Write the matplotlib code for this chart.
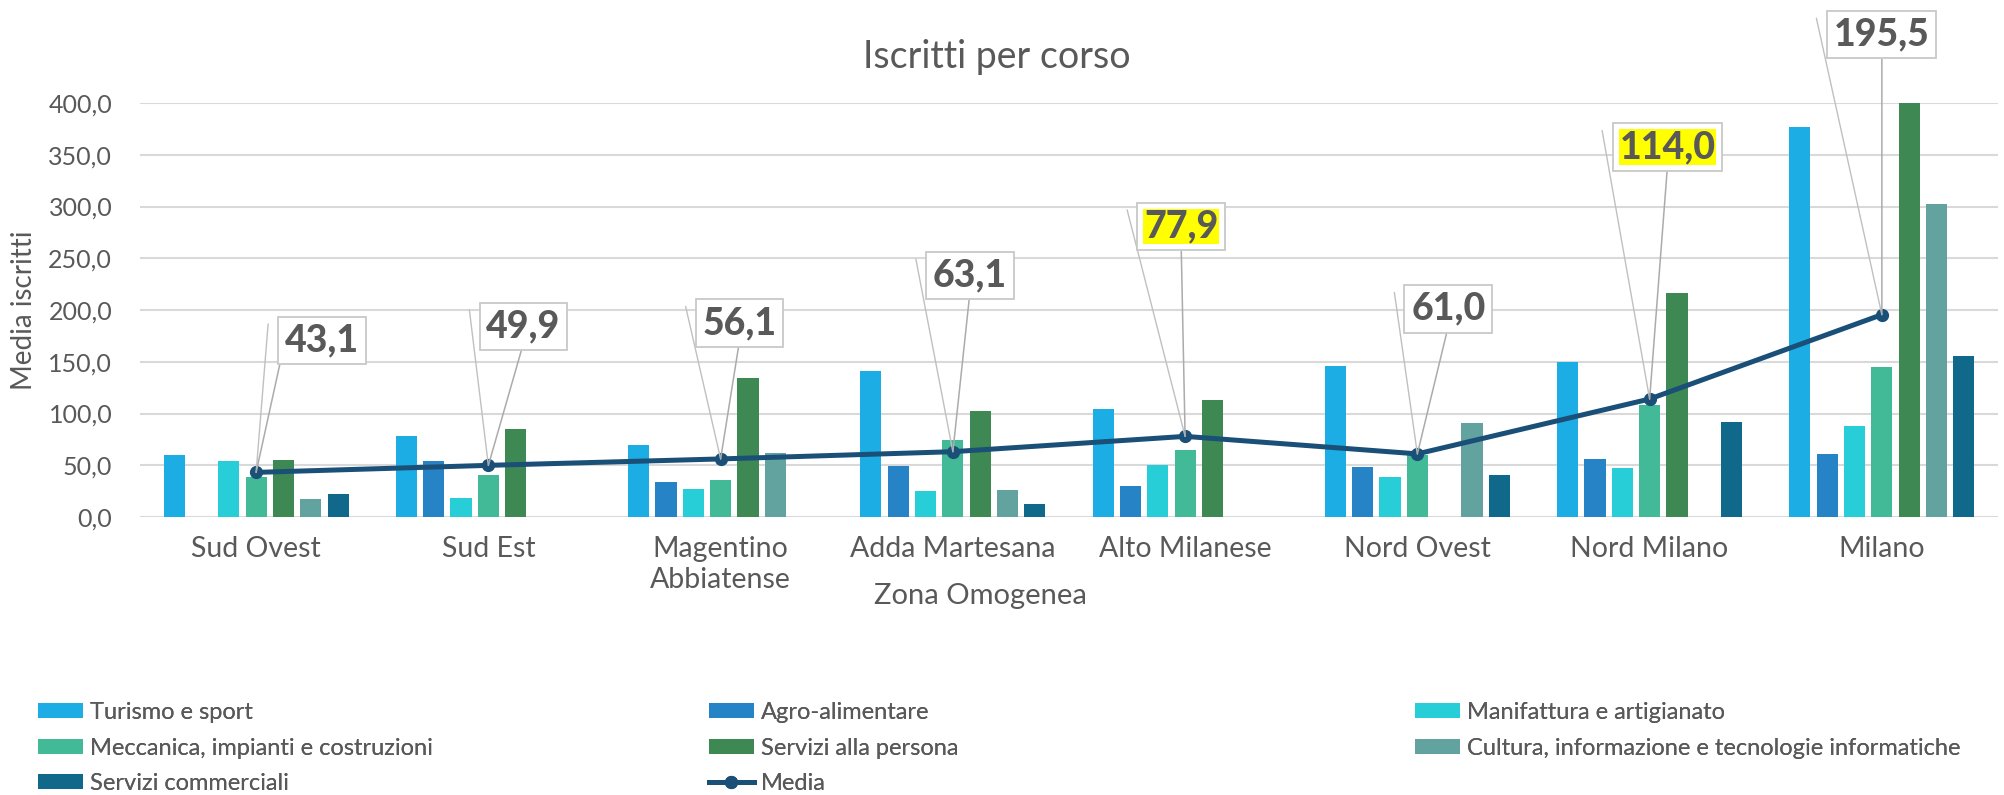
import matplotlib
matplotlib.use("Agg")
import matplotlib.pyplot as plt
import numpy as np

# dati
zone = ["Sud Ovest", "Sud Est", "Magentino\nAbbiatense", "Adda Martesana",
        "Alto Milanese", "Nord Ovest", "Nord Milano", "Milano"]

turismo = [60, 78, 70, 141, 104, 146, 150, 377]
agro = [0, 54, 34, 49, 30, 48, 56, 61]
manifattura = [54, 18, 27, 25, 50, 39, 47, 88]
meccanica = [39, 41, 36, 74, 65, 60, 108, 145]
servizi_persona = [55, 85, 134, 102, 113, 0, 216, 400.5]
cultura = [17, 0, 62, 26, 0, 91, 0, 302]
commerciali = [22, 0, 0, 13, 0, 41, 92, 156]
media = [43.1, 49.9, 56.1, 63.1, 77.9, 61.0, 114.0, 195.5]

nomi_serie = ["Turismo e sport", "Agro-alimentare", "Manifattura e artigianato",
              "Meccanica, impianti e costruzioni", "Servizi alla persona",
              "Cultura, informazione e tecnologie informatiche", "Servizi commerciali"]
colori = ["#1CADE4", "#2683C6", "#27CED7", "#42BA97", "#3E8853", "#62A39F", "#10688A"]
colore_media = "#1A4F77"
grigio = "#595959"

# posizione delle etichette della media (offset in pixel dal punto), e quali evidenziate
offset_etichette = [(66, 132), (35, 139), (19, 136), (17, 176), (-4, 210), (31, 145), (18, 252), (0, 280)]
evidenziate = [False, False, False, False, True, False, True, False]

plt.rcParams["font.family"] = ["Lato", "DejaVu Sans"]

fig = plt.figure(figsize=(20.04, 7.95), dpi=100)
ax = fig.add_axes([140 / 2004, 1 - 517 / 795, 1858 / 2004, 414 / 795])

x = np.arange(len(zone))
serie = [turismo, agro, manifattura, meccanica, servizi_persona, cultura, commerciali]
passo = 0.1177
larghezza = 0.091
barre = []
for j, valori in enumerate(serie):
    b = ax.bar(x + (j - 3) * passo, valori, width=larghezza, color=colori[j],
               label=nomi_serie[j], zorder=2)
    barre.append(b)

linea, = ax.plot(x, media, color=colore_media, lw=3.6, marker="o", markersize=8.5,
                 label="Media", zorder=4)

ax.set_xlim(-0.5, len(zone) - 0.5)
ax.set_ylim(0, 400)
ax.set_yticks(np.arange(0, 401, 50))
ax.set_yticklabels([f"{v:.1f}".replace(".", ",") for v in np.arange(0, 401, 50)])
ax.set_xticks(x)
ax.set_xticklabels(zone, linespacing=1.2)
ax.tick_params(axis="both", length=0, labelcolor=grigio)
ax.tick_params(axis="y", labelsize=18, pad=20)
ax.tick_params(axis="x", labelsize=20.5, pad=14)
ax.grid(axis="y", color="#D9D9D9", lw=1.5, zorder=0)
ax.set_axisbelow(True)
for s in ax.spines.values():
    s.set_visible(False)

ax.set_ylabel("Media iscritti", fontsize=20, color=grigio)
ax.yaxis.set_label_coords(-103 / 1858, 0.5)
fig.text(980 / 2004, 1 - 596 / 795, "Zona Omogenea", fontsize=21, color=grigio,
         ha="center", va="center")
fig.text(997 / 2004, 1 - 57 / 795, "Iscritti per corso", fontsize=27, color=grigio,
         ha="center", va="center")

# etichette della media con linee di richiamo
for i, v in enumerate(media):
    testo = f"{v:.1f}".replace(".", ",")
    dx, dy = offset_etichette[i]
    w = 92 if len(testo) == 4 else 115
    h = 53
    rel = (0, 0.5) if dx - w / 2 > 0 else (0.5, 0)
    ax.annotate(testo, xy=(i, v), xytext=(dx, dy), textcoords="offset pixels",
                ha="center", va="center", fontsize=27, fontweight="black", color=grigio,
                bbox=dict(boxstyle="square,pad=0.18", fc="white", ec="#C8C8C8", lw=1.3),
                arrowprops=dict(arrowstyle="-", color="#ABABAB", lw=1.1, relpos=rel,
                                shrinkA=0, shrinkB=0),
                zorder=6, annotation_clip=False)
    ax.annotate("", xy=(i, v), xytext=(dx - w / 2 - 8, dy + h / 2 - 10),
                textcoords="offset pixels",
                arrowprops=dict(arrowstyle="-", color="#C0C0C0", lw=1.0,
                                shrinkA=0, shrinkB=0),
                zorder=5, annotation_clip=False)
    if evidenziate[i]:
        ax.annotate(testo, xy=(i, v), xytext=(dx, dy), textcoords="offset pixels",
                    ha="center", va="center", fontsize=27, fontweight="black", color=grigio,
                    bbox=dict(boxstyle="square,pad=0.02", fc="#FFFF00", ec="none"),
                    zorder=7, annotation_clip=False)

# legenda su tre colonne, riempita per righe come in Excel
maniglie = barre + [linea]
etichette = nomi_serie + ["Media"]
colonne = [[0, 3, 6], [1, 4, 7], [2, 5]]
x_colonne = [38, 709, 1415]
for col, xc in zip(colonne, x_colonne):
    leg = fig.legend([maniglie[k] for k in col], [etichette[k] for k in col],
                     loc="upper left", bbox_to_anchor=(xc / 2004, 1 - 702 / 795),
                     frameon=False, fontsize=17, labelcolor=grigio,
                     handlelength=1.9, handleheight=0.6, handletextpad=0.3,
                     labelspacing=0.62, borderpad=0, borderaxespad=0)
    fig.add_artist(leg)

fig.savefig("out.png", dpi=100)
